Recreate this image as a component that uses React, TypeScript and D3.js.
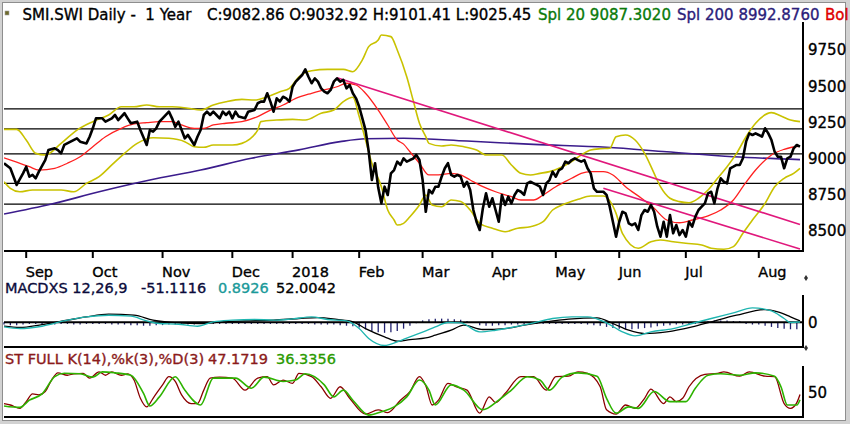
import React, { useRef, useEffect } from "react";
import * as d3 from "d3";

// [trading day index, value] — day 0 is the first session shown
type Pt = [number, number];

const closePrices: Pt[] = [
  [0, 8968], [2, 8933], [4, 8818], [6, 8898], [7, 8944], [8, 8875], [9, 8887], [10, 8864], [11, 8910],
  [13, 8990], [14, 9059], [16, 9071], [17, 9059], [18, 9036], [19, 9094], [21, 9117], [23, 9140],
  [24, 9117], [26, 9105], [27, 9151], [28, 9209], [29, 9278], [31, 9278], [32, 9255], [34, 9278],
  [35, 9301], [36, 9266], [38, 9313], [39, 9278], [40, 9244], [42, 9255], [43, 9197], [45, 9094],
  [46, 9197], [47, 9186], [48, 9209], [49, 9255], [50, 9278], [52, 9324], [53, 9278], [54, 9220],
  [55, 9255], [57, 9140], [58, 9163], [59, 9128], [60, 9094], [61, 9151], [62, 9197], [63, 9301],
  [64, 9324], [65, 9301], [66, 9324], [67, 9301], [68, 9278], [69, 9324], [70, 9301], [71, 9324],
  [72, 9278], [73, 9324], [74, 9290], [76, 9278], [77, 9324], [79, 9335], [80, 9382], [81, 9393],
  [82, 9393], [83, 9451], [84, 9393], [85, 9324], [86, 9416], [87, 9393], [88, 9427], [89, 9416],
  [90, 9393], [91, 9496], [92, 9531], [93, 9554], [94, 9577], [95, 9616], [96, 9565], [97, 9520],
  [98, 9554], [99, 9531], [100, 9485], [101, 9462], [102, 9451], [103, 9474], [104, 9531], [105, 9554],
  [106, 9531], [107, 9543], [108, 9485], [109, 9508], [110, 9451], [111, 9416], [112, 9358], [113, 9278],
  [114, 9197], [115, 9050], [116, 8852], [117, 8968], [118, 8800], [119, 8691], [120, 8806], [121, 8749],
  [122, 8898], [123, 8921], [124, 8979], [125, 8956], [126, 9002], [127, 8979], [128, 8990], [129, 9000],
  [130, 9025], [131, 8990], [132, 8852], [133, 8633], [134, 8783], [135, 8760], [136, 8806], [137, 8806],
  [138, 8875], [139, 8933], [140, 8968], [141, 8887], [142, 8875], [143, 8887], [144, 8875], [145, 8806],
  [146, 8840], [147, 8783], [148, 8645], [149, 8564], [150, 8507], [151, 8657], [152, 8760], [153, 8668],
  [154, 8726], [155, 8645], [156, 8564], [157, 8749], [158, 8680], [159, 8737], [160, 8691], [161, 8749],
  [162, 8783], [163, 8771], [164, 8749], [165, 8829], [166, 8840], [167, 8829], [168, 8818], [169, 8806],
  [170, 8749], [171, 8829], [172, 8852], [173, 8910], [174, 8875], [175, 8921], [176, 8933], [177, 8979],
  [178, 8968], [179, 8990], [180, 9002], [181, 8990], [182, 8979], [183, 8990], [184, 8933], [185, 8898],
  [186, 8795], [187, 8771], [188, 8771], [189, 8771], [190, 8749], [191, 8668], [192, 8564], [193, 8461],
  [194, 8564], [195, 8633], [196, 8622], [197, 8553], [198, 8541], [199, 8553], [200, 8507], [201, 8610],
  [202, 8645], [203, 8633], [204, 8680], [205, 8633], [206, 8530], [207, 8461], [208, 8564], [209, 8461],
  [210, 8610], [211, 8484], [212, 8541], [213, 8472], [214, 8507], [215, 8461], [216, 8564], [217, 8530],
  [218, 8599], [219, 8645], [220, 8668], [221, 8691], [222, 8760], [223, 8771], [224, 8691], [225, 8795],
  [226, 8864], [227, 8840], [228, 8829], [229, 8933], [230, 8944], [231, 8956], [232, 8956], [233, 9002],
  [234, 9117], [235, 9174], [236, 9163], [237, 9174], [238, 9163], [239, 9151], [240, 9209], [241, 9174],
  [242, 9128], [243, 9047], [244, 9013], [245, 9013], [246, 8933], [247, 9002], [248, 9013], [249, 9071],
  [250, 9094], [251, 9083],
];

const sma20: Pt[] = [
  [0, 9005], [4, 8975], [8, 8944], [11, 8921], [16, 8933], [20, 8968], [24, 9013], [28, 9082], [32, 9151],
  [37, 9209], [41, 9239], [45, 9248], [49, 9255], [53, 9255], [56, 9232], [60, 9209], [63, 9209], [66, 9232],
  [70, 9244], [75, 9255], [80, 9290], [84, 9335], [88, 9370], [92, 9416], [97, 9451], [101, 9474], [105, 9496],
  [108, 9520], [111, 9508], [114, 9451], [118, 9335], [121, 9232], [124, 9128], [126, 9100], [128, 9047],
  [131, 8968], [134, 8887], [137, 8887], [141, 8898], [144, 8887], [147, 8852], [151, 8806], [155, 8771],
  [160, 8737], [163, 8714], [167, 8714], [170, 8749], [174, 8806], [179, 8864], [182, 8898], [185, 8910],
  [189, 8910], [192, 8887], [196, 8806], [201, 8726], [205, 8657], [209, 8576], [213, 8557], [217, 8576],
  [222, 8604], [226, 8645], [230, 8714], [233, 8806], [237, 8921], [242, 9025], [246, 9064], [251, 9087],
];

const sma200: Pt[] = [
  [0, 8617], [15, 8686], [30, 8771], [46, 8852], [62, 8921], [78, 9002], [93, 9060], [106, 9117],
  [114, 9137], [126, 9140], [146, 9121], [167, 9098], [190, 9078], [209, 9047], [230, 9013], [251, 8993],
];

const bollUpper: Pt[] = [
  [0, 9202], [4, 9202], [7, 9128], [10, 9036], [13, 9025], [18, 9105], [23, 9197], [28, 9255], [33, 9301],
  [37, 9358], [41, 9358], [45, 9370], [49, 9358], [53, 9358], [58, 9347], [62, 9335], [66, 9370], [70, 9393],
  [75, 9409], [79, 9404], [83, 9427], [87, 9462], [90, 9485], [93, 9565], [97, 9607], [102, 9616], [107, 9616],
  [110, 9600], [113, 9681], [115, 9773], [118, 9819], [119, 9853], [122, 9842], [124, 9750], [127, 9565],
  [129, 9404], [131, 9244], [133, 9151], [134, 9105], [138, 9087], [141, 9094], [145, 9082], [149, 9059],
  [152, 9025], [157, 9025], [160, 8956], [163, 8898], [166, 8887], [169, 8898], [172, 8910], [175, 8933],
  [179, 8979], [182, 9025], [185, 9059], [188, 9068], [191, 9071], [193, 9151], [196, 9163], [199, 9128],
  [202, 9036], [205, 8898], [207, 8806], [210, 8726], [213, 8703], [216, 8695], [219, 8726], [222, 8783],
  [225, 8864], [228, 8944], [231, 9036], [234, 9151], [237, 9244], [242, 9317], [245, 9294], [248, 9266],
  [251, 9255],
];

const bollLower: Pt[] = [
  [0, 8840], [2, 8795], [5, 8771], [9, 8783], [13, 8783], [18, 8783], [22, 8771], [26, 8829], [30, 8875],
  [34, 8956], [38, 9036], [42, 9105], [47, 9144], [52, 9140], [57, 9117], [60, 9082], [63, 9078], [66, 9094],
  [72, 9094], [75, 9105], [80, 9197], [81, 9255], [86, 9266], [91, 9271], [95, 9266], [100, 9313], [104, 9335],
  [107, 9393], [110, 9423], [112, 9290], [114, 9128], [116, 8968], [119, 8806], [121, 8645], [123, 8576],
  [124, 8541], [126, 8553], [128, 8599], [131, 8680], [133, 8749], [135, 8680], [138, 8668], [141, 8714],
  [144, 8703], [147, 8645], [150, 8553], [154, 8519], [158, 8495], [162, 8519], [166, 8530], [170, 8564],
  [173, 8645], [176, 8680], [181, 8719], [185, 8742], [189, 8742], [193, 8622], [195, 8484], [200, 8381],
  [204, 8426], [207, 8438], [211, 8426], [215, 8415], [220, 8403], [223, 8381], [227, 8374], [230, 8392],
  [233, 8484], [236, 8576], [240, 8691], [243, 8806], [246, 8864], [249, 8898], [251, 8933],
];

const trendLines: Pt[][] = [
  [[105, 9558], [251, 8545]],
  [[189, 8795], [251, 8376]],
];

const levels = [9343, 9205, 9032, 8829, 8686];
const priceTicks = [8500, 8750, 9000, 9250, 9500, 9750];

const monthLabels = ["Sep", "Oct", "Nov", "Dec", "2018", "Feb", "Mar", "Apr", "May", "Jun", "Jul", "Aug"];
const monthDays = [7, 28, 50, 72, 91, 112, 132, 154, 174, 194, 215, 238];

const macdLine: Pt[] = [
  [0, -40], [5, -54], [12, -34], [20, 17], [26, 45], [33, 59], [40, 51], [45, 11], [49, -11], [55, -17],
  [61, -34], [66, 3], [72, 17], [79, 23], [85, 17], [91, 28], [97, 45], [102, 23], [108, 11], [112, -54],
  [115, -138], [120, -197], [124, -166], [128, -124], [133, -73], [136, -40], [140, -3], [144, -6],
  [150, -82], [155, -68], [160, -45], [167, -6], [173, 31], [179, 45], [184, 45], [190, -6], [195, -82],
  [199, -116], [204, -82], [211, -54], [217, -11], [223, 31], [230, 79], [236, 121], [242, 96], [246, 31],
  [248, -3], [251, 1],
];

const signalLine: Pt[] = [
  [0, -34], [5, -45], [12, -20], [20, 17], [26, 45], [33, 68], [41, 59], [47, 17], [55, -6], [62, -11],
  [68, 0], [76, 11], [85, 17], [93, 31], [99, 39], [105, 23], [110, 3], [114, -54], [120, -124], [124, -161],
  [128, -147], [133, -133], [136, -110], [141, -68], [145, -25], [151, -62], [158, -54], [164, -25], [171, 3],
  [178, 25], [187, 37], [192, -11], [197, -68], [202, -96], [209, -82], [217, -40], [223, 3], [231, 59],
  [240, 107], [244, 87], [248, 45], [251, 11],
];

// histogram, one bar every 2 sessions
const HIST_STEP = 2;
const macdHist = [
  -20, -25, -25, -20, -15, -15, -20, -20, -20, -15, -15, -20, -20, -15, -15,
  -15, -15, -20, -20, -20, -25, -25, -30, -30, -25, -25, -20, -20, -20, -20,
  -20, -15, -15, -15, -15, -15, -15, -15, -15, -15, -15, -15, -15, -15, -15,
  -15, -15, -15, -15, -20, -20, -20, -20, -25, -30, -35, -45, -60, -75, -85,
  -90, -85, -75, -55, -30, -10, 15, 25, 30, 30, 30, 25, 20, 10, -5,
  -25, -30, -30, -25, -25, -20, -20, -15, -15, -15, -15, -15, -15, -15, -15,
  -15, -15, -20, -25, -30, -40, -50, -55, -60, -60, -55, -50, -45, -35, -30,
  -25, -20, -20, -15, -15, 10, 10, 15, 15, 15, 10, 10, -15, -20, -20,
  -30, -40, -50, -55, -60, -60,
];

const stochK: Pt[] = [
  [0, 28], [2, 25], [5, 18], [7, 32], [9, 48], [11, 46], [13, 53], [15, 77], [17, 92], [20, 87], [22, 90],
  [25, 91], [27, 81], [30, 94], [32, 87], [34, 94], [37, 87], [39, 90], [41, 77], [43, 39], [45, 21], [47, 39],
  [50, 67], [52, 84], [54, 74], [56, 46], [59, 28], [61, 28], [63, 56], [65, 81], [68, 83], [72, 81], [76, 56],
  [80, 81], [83, 84], [85, 67], [88, 77], [91, 70], [93, 91], [97, 84], [100, 63], [103, 39], [106, 63],
  [109, 39], [114, 6], [118, 15], [121, 9], [125, 35], [128, 53], [131, 84], [133, 65], [135, 25], [137, 35],
  [140, 70], [143, 62], [146, 56], [150, 8], [153, 42], [155, 30], [158, 49], [163, 84], [167, 84], [171, 56],
  [174, 84], [178, 85], [181, 94], [184, 91], [188, 63], [190, 15], [193, 6], [196, 25], [199, 18], [202, 39],
  [204, 58], [208, 28], [210, 42], [212, 32], [214, 39], [216, 63], [221, 89], [225, 91], [227, 94], [232, 85],
  [235, 94], [240, 85], [243, 84], [246, 28], [248, 18], [250, 30], [251, 47],
];

const stochD: Pt[] = [
  [0, 23], [5, 20], [8, 35], [12, 48], [16, 84], [19, 91], [24, 90], [28, 83], [31, 94], [35, 92], [40, 87],
  [44, 49], [46, 23], [49, 42], [54, 84], [57, 56], [62, 25], [66, 81], [73, 81], [78, 60], [82, 83], [88, 74],
  [92, 77], [95, 90], [101, 67], [104, 42], [107, 56], [110, 35], [115, 4], [119, 11], [123, 21], [127, 42],
  [131, 77], [134, 56], [136, 25], [141, 67], [145, 56], [151, 15], [156, 35], [160, 56], [165, 84], [169, 77],
  [172, 56], [176, 83], [181, 92], [187, 85], [190, 39], [193, 8], [197, 21], [200, 18], [205, 53], [210, 32],
  [215, 32], [218, 60], [222, 87], [226, 90], [232, 87], [237, 92], [243, 85], [245, 63], [247, 25], [250, 25],
  [251, 36],
];

const FONT = "DejaVu Sans";
const TEXT_WEIGHT = 0.35; // thin outline to thicken the glyphs a little

const App: React.FC = () => {
  const svgRef = useRef<SVGSVGElement>(null);

  useEffect(() => {
    if (!svgRef.current) return;
    const svg = d3.select(svgRef.current);
    svg.selectAll("*").remove();

    // plot geometry
    const left = 4, right = 803;
    const x = d3.scaleLinear().domain([0, 251]).range([4, 800]);
    const yMain = d3.scaleLinear().domain([8362, 9943]).range([251, 22]);
    const yMacd = d3.scaleLinear().domain([-210, 230]).range([347, 295]);
    const yStoch = d3.scaleLinear().domain([0, 100]).range([417, 369]);

    // window frame
    svg.append("rect").attr("width", 850).attr("height", 424).attr("fill", "#d2d2d2");
    svg.append("rect")
      .attr("x", 2.5).attr("y", 2.5).attr("width", 843).attr("height", 418)
      .attr("fill", "#fff").attr("stroke", "#8e8e8e").attr("stroke-width", 1);

    svg.append("defs").append("clipPath").attr("id", "mainClip")
      .append("rect").attr("x", left).attr("y", 22).attr("width", right - left).attr("height", 229);

    const lineOf = (yS: d3.ScaleLinear<number, number>, curve: d3.CurveFactory) =>
      d3.line<Pt>().x((d) => x(d[0])).y((d) => yS(d[1])).curve(curve);

    // coloured text runs on one baseline
    const textRuns = (y: number, size: string, runs: [number, string, string][]) => {
      const t = svg.append("text").attr("y", y)
        .style("font-family", FONT).style("font-size", size);
      runs.forEach(([sx, col, txt]) => {
        t.append("tspan").attr("x", sx).attr("fill", col)
          .attr("stroke", col).attr("stroke-width", TEXT_WEIGHT)
          .attr("xml:space", "preserve").text(txt);
      });
      return t;
    };

    // ---- title
    textRuns(19.5, "15px", [
      [22.5, "#000", "SMI.SWI Daily -  1 Year"],
      [207, "#000", "C:9082.86 O:9032.92 H:9101.41 L:9025.45"],
      [538, "#0a7a0a", "Spl 20 9087.3020"],
      [677, "#2b1d7a", "Spl 200 8992.8760"],
      [825, "#e00000", "Bol"],
    ]);
    svg.append("rect").attr("x", 5).attr("y", 11).attr("width", 4).attr("height", 4)
      .attr("fill", "#6e6a2a").attr("stroke", "#a0a0a0").attr("stroke-width", 0.6);

    // ---- main panel
    const main = svg.append("g").attr("clip-path", "url(#mainClip)");

    main.selectAll("line.level").data(levels).join("line")
      .attr("x1", left).attr("x2", right)
      .attr("y1", (d) => yMain(d)).attr("y2", (d) => yMain(d))
      .attr("stroke", "#000").attr("stroke-width", 1.2);

    const addPath = (g: d3.Selection<SVGGElement, unknown, null, undefined>, data: Pt[],
      gen: d3.Line<Pt>, color: string, w: number) =>
      g.append("path").datum(data).attr("d", gen).attr("fill", "none")
        .attr("stroke", color).attr("stroke-width", w).attr("stroke-linejoin", "round");

    const smooth = lineOf(yMain, d3.curveMonotoneX);
    addPath(main, sma200, smooth, "#3b1c8c", 1.6);
    addPath(main, bollUpper, smooth, "#c9c200", 1.6);
    addPath(main, bollLower, smooth, "#c9c200", 1.6);
    addPath(main, sma20, smooth, "#ff2020", 1.3);
    trendLines.forEach((t) => addPath(main, t, lineOf(yMain, d3.curveLinear), "#e0187c", 1.6));
    addPath(main, closePrices, lineOf(yMain, d3.curveLinear), "#000", 2.6);

    // right price axis
    svg.append("line").attr("x1", right).attr("x2", right).attr("y1", 22).attr("y2", 252)
      .attr("stroke", "#000").attr("stroke-width", 2);
    svg.selectAll("text.ptick").data(priceTicks).join("text")
      .attr("class", "ptick")
      .attr("x", 808).attr("y", (d) => yMain(d)).attr("dy", "0.36em")
      .style("font-family", FONT).style("font-size", "15px")
      .attr("fill", "#000").attr("stroke", "#000").attr("stroke-width", TEXT_WEIGHT)
      .text((d) => d);

    // bottom time axis
    svg.append("line").attr("x1", left).attr("x2", right).attr("y1", 251).attr("y2", 251)
      .attr("stroke", "#000").attr("stroke-width", 2);
    const months = monthLabels.map((m, i) => ({ m, d: monthDays[i] }));
    svg.selectAll("line.mtick").data(months).join("line")
      .attr("x1", (d) => x(d.d)).attr("x2", (d) => x(d.d)).attr("y1", 251).attr("y2", 258)
      .attr("stroke", "#000").attr("stroke-width", 2);
    svg.selectAll("text.mlab").data(months).join("text")
      .attr("x", (d) => x(d.d) - 0.5).attr("y", 277)
      .style("font-family", FONT).style("font-size", "14.5px")
      .attr("fill", "#000").attr("stroke", "#000").attr("stroke-width", TEXT_WEIGHT)
      .text((d) => d.m);

    const diamond = (cy: number) =>
      svg.append("path")
        .attr("d", `M806,${cy - 3}L808,${cy}L806,${cy + 3}L804,${cy}Z`)
        .attr("fill", "#333");
    diamond(278);
    diamond(348);

    // ---- MACD panel
    textRuns(293, "14.5px", [
      [5, "#0b0b3b", "MACDXS 12,26,9"],
      [141, "#0b0b3b", "-51.1116"],
      [218, "#1a9a9a", "0.8926"],
      [276, "#000", "52.0042"],
    ]);

    const macdG = svg.append("g");
    macdG.selectAll("line.hist").data(macdHist).join("line")
      .attr("x1", (_d, i) => x(i * HIST_STEP)).attr("x2", (_d, i) => x(i * HIST_STEP))
      .attr("y1", yMacd(0)).attr("y2", (d) => yMacd(d))
      .attr("stroke", "#20206e").attr("stroke-width", 1.3);
    macdG.append("line").attr("x1", left).attr("x2", right)
      .attr("y1", yMacd(0)).attr("y2", yMacd(0)).attr("stroke", "#000").attr("stroke-width", 2);
    const macdGen = lineOf(yMacd, d3.curveMonotoneX);
    addPath(macdG, signalLine, macdGen, "#000", 1.3);
    addPath(macdG, macdLine, macdGen, "#1fb5b0", 1.4);

    svg.append("line").attr("x1", left).attr("x2", right).attr("y1", 347).attr("y2", 347)
      .attr("stroke", "#000").attr("stroke-width", 2);
    svg.append("line").attr("x1", right).attr("x2", right).attr("y1", 295).attr("y2", 348)
      .attr("stroke", "#000").attr("stroke-width", 2);
    svg.append("text").attr("x", 808).attr("y", yMacd(0)).attr("dy", "0.36em")
      .style("font-family", FONT).style("font-size", "15px")
      .attr("stroke", "#000").attr("stroke-width", TEXT_WEIGHT).text("0");

    // ---- stochastic panel
    textRuns(364, "14.5px", [
      [5, "#8b1a1a", "ST FULL K(14),%k(3),%D(3)"],
      [208, "#8b1a1a", "47.1719"],
      [276, "#2a9a00", "36.3356"],
    ]);

    const stG = svg.append("g");
    const stGen = lineOf(yStoch, d3.curveMonotoneX);
    addPath(stG, stochK, stGen, "#8b0000", 1.3);
    addPath(stG, stochD, stGen, "#2db300", 1.6);

    svg.append("line").attr("x1", left).attr("x2", right).attr("y1", 417).attr("y2", 417)
      .attr("stroke", "#000").attr("stroke-width", 2);
    svg.append("line").attr("x1", right).attr("x2", right).attr("y1", 366).attr("y2", 418)
      .attr("stroke", "#000").attr("stroke-width", 2);
    svg.append("text").attr("x", 808).attr("y", yStoch(50)).attr("dy", "0.36em")
      .style("font-family", FONT).style("font-size", "15px")
      .attr("stroke", "#000").attr("stroke-width", TEXT_WEIGHT).text("50");
  }, []);

  return (
    <svg
      ref={svgRef}
      width={850}
      height={424}
      style={{ position: "absolute", left: 0, top: 0, display: "block" }}
    />
  );
};

export default App;
